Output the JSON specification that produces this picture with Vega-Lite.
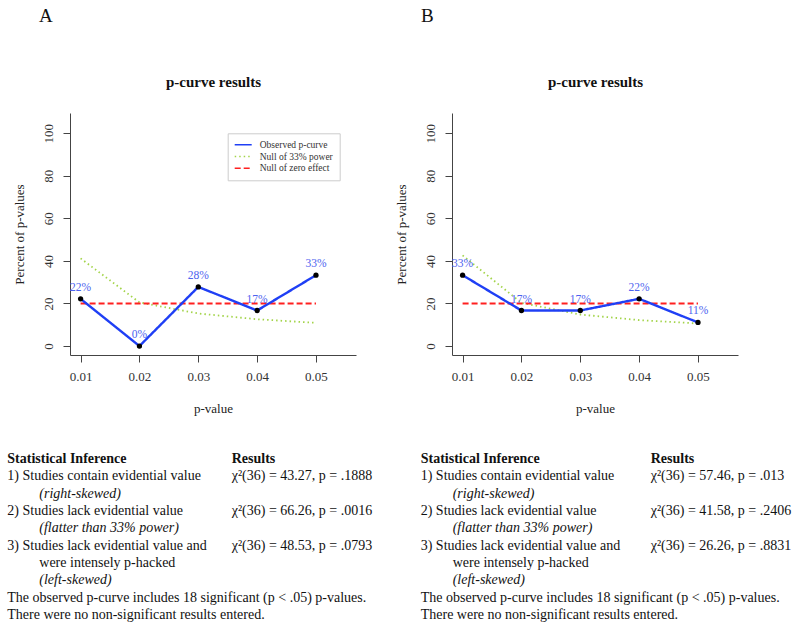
{
  "$schema": "https://vega.github.io/schema/vega-lite/v6.json",
  "autosize": {"type": "pad"},
  "padding": {"left": 7, "top": 7, "right": 5, "bottom": 5},
  "background": "white",
  "config": {
    "view": {"stroke": null},
    "font": "Liberation Serif",
    "axis": {
      "labelFont": "Liberation Serif", "titleFont": "Liberation Serif",
      "labelFontSize": 13, "titleFontSize": 13, "titleFontWeight": "normal",
      "domainColor": "#444444", "tickColor": "#444444", "labelColor": "#333333", "titleColor": "#222222",
      "tickSize": 7, "grid": false
    },
    "title": {"font": "Liberation Serif", "color": "#111111"},
    "legend": {
      "labelFont": "Liberation Serif", "labelFontSize": 9.5, "labelColor": "#333333",
      "symbolType": "stroke", "symbolSize": 289, "symbolStrokeWidth": 1.6,
      "strokeColor": "#cccccc", "fillColor": "white", "padding": 6,
      "clipHeight": 11, "rowPadding": 0.7, "labelOffset": 7, "labelLimit": 300
    }
  },
  "datasets": {
    "curves": [
      {"panel": "A", "series": "Observed p-curve", "p": 0.01, "pct": 22.2, "label": "22%"},
      {"panel": "A", "series": "Observed p-curve", "p": 0.02, "pct": 0, "label": "0%"},
      {"panel": "A", "series": "Observed p-curve", "p": 0.03, "pct": 27.8, "label": "28%"},
      {"panel": "A", "series": "Observed p-curve", "p": 0.04, "pct": 16.7, "label": "17%"},
      {"panel": "A", "series": "Observed p-curve", "p": 0.05, "pct": 33.3, "label": "33%"},
      {"panel": "A", "series": "Null of 33% power", "p": 0.01, "pct": 41.2, "label": ""},
      {"panel": "A", "series": "Null of 33% power", "p": 0.02, "pct": 20.5, "label": ""},
      {"panel": "A", "series": "Null of 33% power", "p": 0.03, "pct": 15.3, "label": ""},
      {"panel": "A", "series": "Null of 33% power", "p": 0.04, "pct": 12.6, "label": ""},
      {"panel": "A", "series": "Null of 33% power", "p": 0.05, "pct": 10.9, "label": ""},
      {"panel": "A", "series": "Null of zero effect", "p": 0.01, "pct": 20, "label": ""},
      {"panel": "A", "series": "Null of zero effect", "p": 0.05, "pct": 20, "label": ""},
      {"panel": "B", "series": "Observed p-curve", "p": 0.01, "pct": 33.3, "label": "33%"},
      {"panel": "B", "series": "Observed p-curve", "p": 0.02, "pct": 16.7, "label": "17%"},
      {"panel": "B", "series": "Observed p-curve", "p": 0.03, "pct": 16.7, "label": "17%"},
      {"panel": "B", "series": "Observed p-curve", "p": 0.04, "pct": 22.2, "label": "22%"},
      {"panel": "B", "series": "Observed p-curve", "p": 0.05, "pct": 11.1, "label": "11%"},
      {"panel": "B", "series": "Null of 33% power", "p": 0.01, "pct": 42.6, "label": ""},
      {"panel": "B", "series": "Null of 33% power", "p": 0.02, "pct": 20.3, "label": ""},
      {"panel": "B", "series": "Null of 33% power", "p": 0.03, "pct": 14.8, "label": ""},
      {"panel": "B", "series": "Null of 33% power", "p": 0.04, "pct": 12.2, "label": ""},
      {"panel": "B", "series": "Null of 33% power", "p": 0.05, "pct": 10.6, "label": ""},
      {"panel": "B", "series": "Null of zero effect", "p": 0.01, "pct": 20, "label": ""},
      {"panel": "B", "series": "Null of zero effect", "p": 0.05, "pct": 20, "label": ""}
    ],
    "tables": [
      {"panel": "A", "row": 1, "col": "label", "kind": "bold", "text": "Statistical Inference"},
      {"panel": "A", "row": 1, "col": "result", "kind": "bold", "text": "Results"},
      {"panel": "A", "row": 2, "col": "label", "kind": "normal", "text": "1) Studies contain evidential value"},
      {"panel": "A", "row": 2, "col": "result", "kind": "normal", "text": "χ²(36) = 43.27, p = .1888"},
      {"panel": "A", "row": 3, "col": "label", "kind": "italic", "text": "(right-skewed)"},
      {"panel": "A", "row": 4, "col": "label", "kind": "normal", "text": "2) Studies lack evidential value"},
      {"panel": "A", "row": 4, "col": "result", "kind": "normal", "text": "χ²(36) = 66.26, p = .0016"},
      {"panel": "A", "row": 5, "col": "label", "kind": "italic", "text": "(flatter than 33% power)"},
      {"panel": "A", "row": 6, "col": "label", "kind": "normal", "text": "3) Studies lack evidential value and"},
      {"panel": "A", "row": 6, "col": "result", "kind": "normal", "text": "χ²(36) = 48.53, p = .0793"},
      {"panel": "A", "row": 7, "col": "label", "kind": "indent", "text": "were intensely p-hacked"},
      {"panel": "A", "row": 8, "col": "label", "kind": "italic", "text": "(left-skewed)"},
      {"panel": "A", "row": 9, "col": "label", "kind": "normal", "text": "The observed p-curve includes 18 significant (p < .05) p-values."},
      {"panel": "A", "row": 10, "col": "label", "kind": "normal", "text": "There were no non-significant results entered."},
      {"panel": "B", "row": 1, "col": "label", "kind": "bold", "text": "Statistical Inference"},
      {"panel": "B", "row": 1, "col": "result", "kind": "bold", "text": "Results"},
      {"panel": "B", "row": 2, "col": "label", "kind": "normal", "text": "1) Studies contain evidential value"},
      {"panel": "B", "row": 2, "col": "result", "kind": "normal", "text": "χ²(36) = 57.46, p = .013"},
      {"panel": "B", "row": 3, "col": "label", "kind": "italic", "text": "(right-skewed)"},
      {"panel": "B", "row": 4, "col": "label", "kind": "normal", "text": "2) Studies lack evidential value"},
      {"panel": "B", "row": 4, "col": "result", "kind": "normal", "text": "χ²(36) = 41.58, p = .2406"},
      {"panel": "B", "row": 5, "col": "label", "kind": "italic", "text": "(flatter than 33% power)"},
      {"panel": "B", "row": 6, "col": "label", "kind": "normal", "text": "3) Studies lack evidential value and"},
      {"panel": "B", "row": 6, "col": "result", "kind": "normal", "text": "χ²(36) = 26.26, p = .8831"},
      {"panel": "B", "row": 7, "col": "label", "kind": "indent", "text": "were intensely p-hacked"},
      {"panel": "B", "row": 8, "col": "label", "kind": "italic", "text": "(left-skewed)"},
      {"panel": "B", "row": 9, "col": "label", "kind": "normal", "text": "The observed p-curve includes 18 significant (p < .05) p-values."},
      {"panel": "B", "row": 10, "col": "label", "kind": "normal", "text": "There were no non-significant results entered."}
    ]
  },
  "columns": 2,
  "bounds": "flush",
  "spacing": {"row": 104, "column": 96},
  "concat": [
    {
      "width": 286, "height": 242,
      "title": {"text": "A", "anchor": "start", "frame": "group", "dx": -31, "offset": 33, "fontSize": 19, "fontWeight": "normal", "baseline": "alphabetic"},
      "data": {"name": "curves"},
      "transform": [{"filter": "datum.panel === 'A'"}],
      "encoding": {
        "y": {"field": "pct", "type": "quantitative", "scale": {"domain": [-4.2, 109.5], "nice": false, "zero": false},
              "axis": {"values": [0, 20, 40, 60, 80, 100], "labelAngle": 270, "labelAlign": "center", "labelBaseline": "bottom", "labelPadding": 8, "title": "Percent of p-values", "titlePadding": 16}}
      },
      "layer": [
        {"transform": [{"filter": "datum.series !== 'Observed p-curve'"}],
         "mark": {"type": "line", "strokeWidth": 1.8},
         "encoding": {
           "x": {"field": "p", "type": "quantitative", "scale": {"domain": [0.0082, 0.0568], "nice": false, "zero": false},
                 "axis": {"values": [0.01, 0.02, 0.03, 0.04, 0.05], "format": ".2f", "labelPadding": 8, "title": "p-value", "titlePadding": 19}},
           "color": {"field": "series", "type": "nominal", "scale": {"domain": ["Observed p-curve", "Null of 33% power", "Null of zero effect"], "range": ["#1f3ff5", "#a3d44a", "#ff2020"]},
                     "legend": {"orient": "none", "legendX": 157.7, "legendY": 20.3, "title": null}},
           "strokeDash": {"field": "series", "type": "nominal", "scale": {"domain": ["Observed p-curve", "Null of 33% power", "Null of zero effect"], "range": [[1, 0], [1.5, 3], [6, 3]]},
                     "legend": {"orient": "none", "legendX": 157.7, "legendY": 20.3, "title": null}}
         }},
        {"transform": [{"filter": "datum.series === 'Observed p-curve'"}],
         "mark": {"type": "line", "strokeWidth": 2.4},
         "encoding": {
           "x": {"field": "p", "type": "quantitative", "axis": null},
           "color": {"field": "series", "type": "nominal"},
           "strokeDash": {"field": "series", "type": "nominal"}
         }},
        {"transform": [{"filter": "datum.series === 'Observed p-curve'"}],
         "mark": {"type": "circle", "color": "black", "opacity": 1, "size": 28},
         "encoding": {"x": {"field": "p", "type": "quantitative", "axis": null}}},
        {"transform": [{"filter": "datum.series === 'Observed p-curve'"}],
         "mark": {"type": "text", "dy": -11, "fontSize": 11.5, "color": "#4d63ef", "font": "Liberation Serif"},
         "encoding": {"x": {"field": "p", "type": "quantitative", "axis": null}, "text": {"field": "label"}}},
        {"transform": [{"filter": "datum.series === 'Observed p-curve'"}],
         "mark": {"type": "point", "opacity": 0},
         "encoding": {"x": {"field": "p", "type": "quantitative",
                            "axis": {"orient": "top", "title": "p-curve results", "labels": false, "ticks": false, "domain": false, "titleFontSize": 15, "titleFontWeight": "bold", "titleColor": "#111111", "titlePadding": 27, "titleBaseline": "alphabetic"}}}}
      ],
      "resolve": {"axis": {"x": "independent"}}
    },
    {
      "width": 286, "height": 242,
      "title": {"text": "B", "anchor": "start", "frame": "group", "dx": -31, "offset": 33, "fontSize": 19, "fontWeight": "normal", "baseline": "alphabetic"},
      "data": {"name": "curves"},
      "transform": [{"filter": "datum.panel === 'B'"}],
      "encoding": {
        "y": {"field": "pct", "type": "quantitative", "scale": {"domain": [-4.2, 109.5], "nice": false, "zero": false},
              "axis": {"values": [0, 20, 40, 60, 80, 100], "labelAngle": 270, "labelAlign": "center", "labelBaseline": "bottom", "labelPadding": 8, "title": "Percent of p-values", "titlePadding": 16}}
      },
      "layer": [
        {"transform": [{"filter": "datum.series !== 'Observed p-curve'"}],
         "mark": {"type": "line", "strokeWidth": 1.8},
         "encoding": {
           "x": {"field": "p", "type": "quantitative", "scale": {"domain": [0.0082, 0.0568], "nice": false, "zero": false},
                 "axis": {"values": [0.01, 0.02, 0.03, 0.04, 0.05], "format": ".2f", "labelPadding": 8, "title": "p-value", "titlePadding": 19}},
           "color": {"field": "series", "type": "nominal", "scale": {"domain": ["Observed p-curve", "Null of 33% power", "Null of zero effect"], "range": ["#1f3ff5", "#a3d44a", "#ff2020"]},
                     "legend": {"orient": "none", "legendX": 157.7, "legendY": 20.3, "title": null}},
           "strokeDash": {"field": "series", "type": "nominal", "scale": {"domain": ["Observed p-curve", "Null of 33% power", "Null of zero effect"], "range": [[1, 0], [1.5, 3], [6, 3]]},
                     "legend": {"orient": "none", "legendX": 157.7, "legendY": 20.3, "title": null}}
         }},
        {"transform": [{"filter": "datum.series === 'Observed p-curve'"}],
         "mark": {"type": "line", "strokeWidth": 2.4},
         "encoding": {
           "x": {"field": "p", "type": "quantitative", "axis": null},
           "color": {"field": "series", "type": "nominal"},
           "strokeDash": {"field": "series", "type": "nominal"}
         }},
        {"transform": [{"filter": "datum.series === 'Observed p-curve'"}],
         "mark": {"type": "circle", "color": "black", "opacity": 1, "size": 28},
         "encoding": {"x": {"field": "p", "type": "quantitative", "axis": null}}},
        {"transform": [{"filter": "datum.series === 'Observed p-curve'"}],
         "mark": {"type": "text", "dy": -11, "fontSize": 11.5, "color": "#4d63ef", "font": "Liberation Serif"},
         "encoding": {"x": {"field": "p", "type": "quantitative", "axis": null}, "text": {"field": "label"}}},
        {"transform": [{"filter": "datum.series === 'Observed p-curve'"}],
         "mark": {"type": "point", "opacity": 0},
         "encoding": {"x": {"field": "p", "type": "quantitative",
                            "axis": {"orient": "top", "title": "p-curve results", "labels": false, "ticks": false, "domain": false, "titleFontSize": 15, "titleFontWeight": "bold", "titleColor": "#111111", "titlePadding": 27, "titleBaseline": "alphabetic"}}}}
      ],
      "resolve": {"axis": {"x": "independent"}}
    },
    {
      "width": 286, "height": 156,
      "data": {"name": "tables"},
      "transform": [{"filter": "datum.panel === 'A'"}],
      "encoding": {
        "x": {"field": "col", "type": "nominal", "scale": {"type": "point", "padding": 0, "domain": ["label", "result"], "range": [-62.7, 161.7]}, "axis": null},
        "y": {"field": "row", "type": "ordinal", "scale": {"type": "point", "padding": 0, "range": [0, 156]}, "axis": null},
        "text": {"field": "text"}
      },
      "layer": [
        {"transform": [{"filter": "datum.kind === 'bold'"}], "mark": {"type": "text", "align": "left", "baseline": "middle", "fontSize": 14, "fontWeight": "bold", "color": "#111111", "font": "Liberation Serif"}},
        {"transform": [{"filter": "datum.kind === 'normal'"}], "mark": {"type": "text", "align": "left", "baseline": "middle", "fontSize": 14, "color": "#111111", "font": "Liberation Serif"}},
        {"transform": [{"filter": "datum.kind === 'indent'"}], "mark": {"type": "text", "align": "left", "baseline": "middle", "fontSize": 14, "dx": 32, "color": "#111111", "font": "Liberation Serif"}},
        {"transform": [{"filter": "datum.kind === 'italic'"}], "mark": {"type": "text", "align": "left", "baseline": "middle", "fontSize": 14, "dx": 32, "fontStyle": "italic", "color": "#111111", "font": "Liberation Serif"}}
      ]
    },
    {
      "width": 286, "height": 156,
      "data": {"name": "tables"},
      "transform": [{"filter": "datum.panel === 'B'"}],
      "encoding": {
        "x": {"field": "col", "type": "nominal", "scale": {"type": "point", "padding": 0, "domain": ["label", "result"], "range": [-31.3, 198.7]}, "axis": null},
        "y": {"field": "row", "type": "ordinal", "scale": {"type": "point", "padding": 0, "range": [0, 156]}, "axis": null},
        "text": {"field": "text"}
      },
      "layer": [
        {"transform": [{"filter": "datum.kind === 'bold'"}], "mark": {"type": "text", "align": "left", "baseline": "middle", "fontSize": 14, "fontWeight": "bold", "color": "#111111", "font": "Liberation Serif"}},
        {"transform": [{"filter": "datum.kind === 'normal'"}], "mark": {"type": "text", "align": "left", "baseline": "middle", "fontSize": 14, "color": "#111111", "font": "Liberation Serif"}},
        {"transform": [{"filter": "datum.kind === 'indent'"}], "mark": {"type": "text", "align": "left", "baseline": "middle", "fontSize": 14, "dx": 32, "color": "#111111", "font": "Liberation Serif"}},
        {"transform": [{"filter": "datum.kind === 'italic'"}], "mark": {"type": "text", "align": "left", "baseline": "middle", "fontSize": 14, "dx": 32, "fontStyle": "italic", "color": "#111111", "font": "Liberation Serif"}}
      ]
    }
  ]
}
